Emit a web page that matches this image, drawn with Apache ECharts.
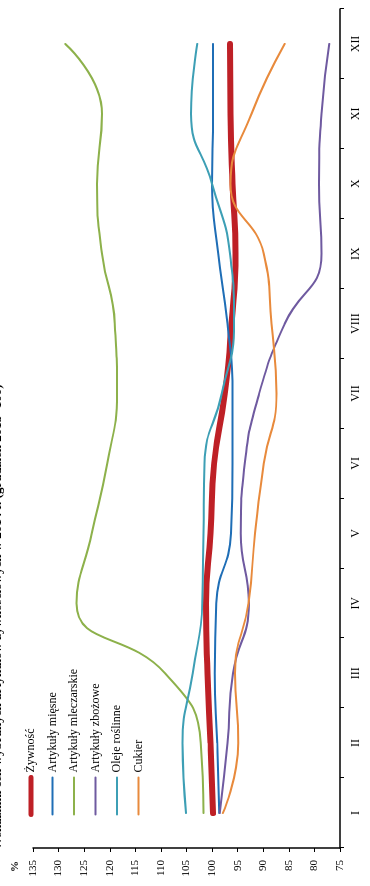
<!DOCTYPE html>
<html>
<head>
<meta charset="utf-8">
<script src="https://cdn.jsdelivr.net/npm/echarts@6/dist/echarts.min.js"></script>
<style>
html,body{margin:0;padding:0;width:370px;height:886px;overflow:hidden;background:#fff;}
#chart{position:absolute;left:0;top:0;width:886px;height:370px;transform-origin:0 0;transform:translateY(886px) rotate(-90deg);}
</style>
</head>
<body>
<div id="chart"></div>
<script>
const titleText = 'Wskaźniki cen wybranych artykułów żywnościowych w 2014 r. (grudzień 2013=100)';
const months = ['I','II','III','IV','V','VI','VII','VIII','IX','X','XI','XII'];
const valueTicks = {min: 75, max: 135, interval: 5};
const seriesNames = ['Żywność','Artykuły mięsne','Artykuły mleczarskie','Artykuły zbożowe','Oleje roślinne','Cukier'];
const zywnosc     = [99.8, 100.3, 100.9, 101.2, 100.3, 99.6, 97.5, 96.2, 95.4, 96.0, 96.4, 96.5];
const miesne      = [98.6, 99.0, 99.5, 99.2, 96.3, 96.0, 96.0, 97.0, 98.8, 100.0, 99.8, 99.8];
const mleczarskie = [101.7, 102.2, 109.2, 126.5, 123.5, 120.5, 118.6, 119.0, 121.5, 122.5, 121.5, 128.7];
const zbozowe     = [98.5, 97.0, 95.9, 92.8, 94.4, 93.6, 90.8, 85.8, 78.6, 79.1, 78.6, 77.1];
const oleje       = [105.1, 105.8, 103.8, 101.9, 101.7, 101.5, 98.1, 95.7, 96.5, 100.0, 104.1, 102.9];
const cukier      = [97.9, 94.9, 95.5, 92.9, 91.6, 89.9, 87.4, 88.4, 89.9, 96.4, 92.3, 85.8];

const values = [zywnosc, miesne, mleczarskie, zbozowe, oleje, cukier];
const colors = ['#BE2026','#1F6EB6','#8DB14B','#6F5AA0','#3D9FB5','#E88A3C'];
const widths = [6, 2, 2, 2, 2, 2];
const legendWidths = [5, 2, 2, 2, 2, 2];
const FONT = "'Liberation Serif','Times New Roman',serif";

const chart = echarts.init(document.getElementById('chart'), null, {renderer: 'canvas'});
chart.setOption({
  animation: false,
  backgroundColor: '#fff',
  graphic: [{
    type: 'text', x: 36, y: 4, silent: true,
    style: {text: titleText, font: "bold 13px 'Liberation Serif','Times New Roman',serif", fill: '#000', verticalAlign: 'bottom', align: 'left'}
  }],
  legend: {
    orient: 'vertical', left: 64, top: 20, itemWidth: 37, itemHeight: 14, itemGap: 9.5,
    itemStyle: {opacity: 0},
    data: seriesNames.map((n, i) => ({name: n, lineStyle: {width: legendWidths[i], cap: 'round', color: colors[i]}})),
    textStyle: {fontFamily: FONT, fontSize: 12, color: '#000'}
  },
  grid: {left: 38, right: 9, top: 33, bottom: 30, containLabel: false},
  xAxis: {
    type: 'category', data: months, boundaryGap: true,
    axisLine: {lineStyle: {color: '#000', width: 1.5}},
    axisTick: {show: true, length: 4, lineStyle: {color: '#000'}},
    axisLabel: {fontFamily: FONT, fontSize: 12, color: '#000', margin: 10},
    splitLine: {show: false}
  },
  yAxis: {
    type: 'value', min: valueTicks.min, max: valueTicks.max, interval: valueTicks.interval,
    name: '%', nameLocation: 'end', nameGap: 12,
    nameTextStyle: {fontFamily: FONT, fontSize: 11, fontWeight: 'bold', color: '#000', align: 'right', padding: [0, 13, 0, 0]},
    axisLine: {show: true, lineStyle: {color: '#000', width: 1.5}},
    axisTick: {show: true, length: 4, lineStyle: {color: '#000'}},
    axisLabel: {fontFamily: FONT, fontSize: 11, color: '#000', margin: 12},
    splitLine: {show: false}
  },
  series: seriesNames.map((n, i) => ({
    name: n, type: 'line', data: values[i], smooth: 0.5, symbol: 'none',
    color: colors[i],
    lineStyle: {color: colors[i], width: widths[i], cap: 'round'},
    z: i === 0 ? 1 : 2
  }))
});
</script>
</body>
</html>
